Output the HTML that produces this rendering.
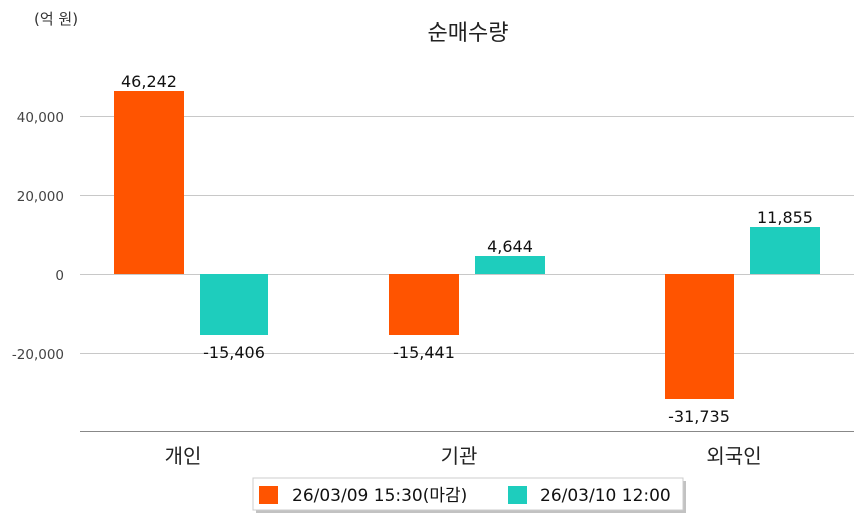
<!DOCTYPE html>
<html><head><meta charset="utf-8"><style>
html,body{margin:0;padding:0;background:#fff;}
svg{display:block;font-family:"DejaVu Sans","Noto Sans CJK KR",sans-serif;}
</style></head><body>
<svg width="863" height="520" viewBox="0 0 863 520" xmlns="http://www.w3.org/2000/svg">
<rect width="863" height="520" fill="#fff"/>
<text x="34" y="24" font-size="15" fill="#333">(억 원)</text>
<text x="468" y="40" font-size="22" fill="#222" text-anchor="middle">순매수량</text>
<g stroke="#c8c8c8" stroke-width="1">
<line x1="80" y1="116.5" x2="854" y2="116.5"/>
<line x1="80" y1="195.5" x2="854" y2="195.5"/>
<line x1="80" y1="274.5" x2="854" y2="274.5"/>
<line x1="80" y1="353.5" x2="854" y2="353.5"/>
</g>
<line x1="80" y1="431.5" x2="854" y2="431.5" stroke="#888" stroke-width="1"/>
<g font-size="13.5" fill="#444" text-anchor="end">
<text x="64" y="122">40,000</text>
<text x="64" y="201">20,000</text>
<text x="64" y="280">0</text>
<text x="64" y="359">-20,000</text>
</g>
<g fill="#ff5400">
<rect x="114" y="91" width="70" height="183"/>
<rect x="389" y="274" width="70" height="61"/>
<rect x="665" y="274" width="69" height="125"/>
</g>
<g fill="#1ecdbd">
<rect x="200" y="274" width="68" height="61"/>
<rect x="475" y="256" width="70" height="18"/>
<rect x="750" y="227" width="70" height="47"/>
</g>
<g font-size="16" fill="#111" text-anchor="middle">
<text x="149" y="87">46,242</text>
<text x="234" y="358">-15,406</text>
<text x="424" y="358">-15,441</text>
<text x="510" y="252">4,644</text>
<text x="699" y="422">-31,735</text>
<text x="785" y="223">11,855</text>
</g>
<g font-size="20" fill="#222" text-anchor="middle">
<text x="183" y="463">개인</text>
<text x="459" y="463">기관</text>
<text x="734" y="463">외국인</text>
</g>
<rect x="256" y="481" width="430" height="32" fill="#999" opacity="0.6"/>
<rect x="253" y="478" width="430" height="32" fill="#fff" stroke="#ccc" stroke-width="1"/>
<rect x="259" y="486" width="19" height="18" fill="#ff5400"/>
<text x="292" y="501" font-size="17" fill="#111">26/03/09 15:30(마감)</text>
<rect x="508" y="486" width="19" height="18" fill="#1ecdbd"/>
<text x="540" y="501" font-size="17" fill="#111">26/03/10 12:00</text>
</svg>
</body></html>
